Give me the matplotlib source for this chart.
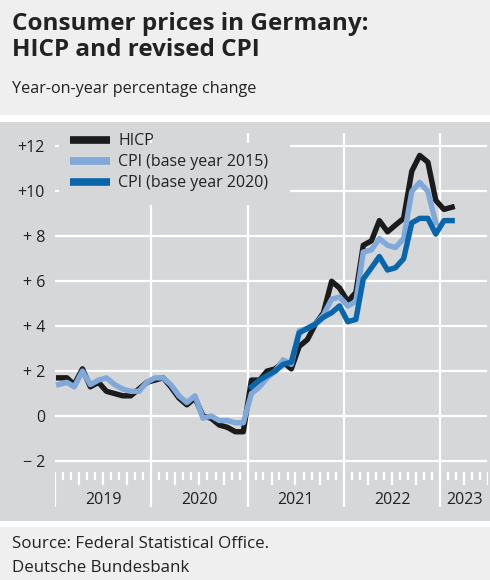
import numpy as np
import pandas as pd
import matplotlib
matplotlib.use("Agg")
import matplotlib.pyplot as plt
from matplotlib.patches import Rectangle
from matplotlib.lines import Line2D

plt.rcParams["font.family"] = ["Open Sans", "DejaVu Sans"]

# --- data (year-on-year % change, monthly) ---
hicp = [1.7, 1.7, 1.4, 2.1, 1.3, 1.5, 1.1, 1.0, 0.9, 0.9, 1.2, 1.5,
        1.6, 1.7, 1.3, 0.8, 0.5, 0.8, 0.0, -0.1, -0.4, -0.5, -0.7, -0.7,
        1.6, 1.6, 2.0, 2.1, 2.4, 2.1, 3.1, 3.4, 4.1, 4.6, 6.0, 5.7,
        5.1, 5.5, 7.6, 7.8, 8.7, 8.2, 8.5, 8.8, 10.9, 11.6, 11.3, 9.6,
        9.2, 9.3]
cpi_2015 = [1.4, 1.5, 1.3, 2.0, 1.4, 1.6, 1.7, 1.4, 1.2, 1.1, 1.1, 1.5,
            1.7, 1.7, 1.4, 0.9, 0.6, 0.9, -0.1, 0.0, -0.2, -0.2, -0.3, -0.3,
            1.0, 1.3, 1.7, 2.0, 2.5, 2.3, 3.8, 3.9, 4.1, 4.5, 5.2, 5.3,
            4.9, 5.1, 7.3, 7.4, 7.9, 7.6, 7.5, 7.9, 10.0, 10.4, 10.0, 8.6]
cpi_2020 = [1.3, 1.6, 1.8, 2.0, 2.3, 2.4, 3.7, 3.9, 4.1, 4.4, 4.6, 4.9,
            4.2, 4.3, 6.1, 6.6, 7.1, 6.5, 6.6, 7.0, 8.6, 8.8, 8.8, 8.1,
            8.7, 8.7]
hicp_start = "2019-01"
cpi_2015_start = "2019-01"
cpi_2020_start = "2021-01"

y_ticks = [-2, 0, 2, 4, 6, 8, 10, 12]
y_labels = ["\u2212 2", "0", "+ 2", "+ 4", "+ 6", "+ 8", "+10", "+12"]
years = [2019, 2020, 2021, 2022, 2023]

BG = "#efefef"
PANEL = "#d6d7d9"
TXT = "#222222"
C_HICP = "#1b1b1b"
C_2015 = "#80a9da"
C_2020 = "#0a66aa"


def month_mid(start, n):
    return pd.date_range(start, periods=n, freq="MS") + pd.Timedelta(days=14)


W, H = 490, 580
fig = plt.figure(figsize=(W / 100, H / 100), dpi=100, facecolor=BG)

# white separators and grey panel (behind the axes)
for y_top, h, col in [(115, 7, "white"), (122, 399, PANEL), (521, 6, "white")]:
    fig.patches.append(Rectangle((0, 1 - (y_top + h) / H), 1, h / H,
                                 transform=fig.transFigure, facecolor=col,
                                 edgecolor="none", zorder=-5))

ax = fig.add_axes([55 / W, 1 - 507 / H, 433 / W, 374 / H])
ax.set_zorder(1)
ax.set_facecolor("none")
for s in ax.spines.values():
    s.set_visible(False)

x0 = pd.Timestamp("2019-01-01")
x1 = pd.Timestamp("2023-07-01")
ax.set_xlim(x0, x1)
ax.set_ylim(-4.05, 12.6)

# grid
ax.hlines(y_ticks, x0, x1 - pd.Timedelta(days=5), color="white", lw=1.6, zorder=1)
for yr in years[1:]:
    ax.vlines(pd.Timestamp(f"{yr}-01-01"), -4.05, 12.6, color="white", lw=1.6, zorder=1)
ax.vlines(x0, -4.05, -2.49, color="white", lw=1.6, zorder=1)

# month ticks along the bottom
months = pd.date_range("2019-02-01", "2023-07-01", freq="MS")
for m in months:
    if m.month == 1:
        continue
    low = -3.07 if m.month in (4, 7, 10) else -2.84
    ax.vlines(m, low, -2.49, color="white", lw=1.6, zorder=1)

for yr in years:
    a = pd.Timestamp(f"{yr}-01-01")
    b = min(pd.Timestamp(f"{yr + 1}-01-01"), x1)
    ax.text(a + (b - a) / 2, -3.72, str(yr), ha="center", va="center",
            fontsize=11.5, color=TXT)

# legend background hides grid
ax.add_patch(Rectangle((0.009, 0.807), 0.534, 0.166, transform=ax.transAxes,
                       facecolor=PANEL, edgecolor="none", zorder=2))

ax.plot(month_mid(hicp_start, len(hicp)), hicp, color=C_HICP, lw=3.9,
        solid_joinstyle="round", zorder=3)
ax.plot(month_mid(cpi_2015_start, len(cpi_2015)), cpi_2015, color=C_2015, lw=3.9,
        solid_joinstyle="round", zorder=4)
ax.plot(month_mid(cpi_2020_start, len(cpi_2020)), cpi_2020, color=C_2020, lw=3.9,
        solid_joinstyle="round", zorder=5)

ax.set_yticks(y_ticks)
ax.set_yticklabels(y_labels, fontsize=11.5, color=TXT)
ax.tick_params(axis="y", length=0, pad=7.2)
ax.set_xticks([])

handles = [Line2D([0], [0], color=C_HICP, lw=5.5, solid_capstyle="butt"),
           Line2D([0], [0], color=C_2015, lw=5.5, solid_capstyle="butt"),
           Line2D([0], [0], color=C_2020, lw=5.5, solid_capstyle="butt")]
leg = ax.legend(handles, ["HICP", "CPI (base year 2015)", "CPI (base year 2020)"],
                loc="upper left", bbox_to_anchor=(67 / W, 1 - 130 / H),
                bbox_transform=fig.transFigure, frameon=False, fontsize=11.5,
                handlelength=2.5, handletextpad=0.5, labelspacing=0.32,
                borderaxespad=0, borderpad=0.2)
for t in leg.get_texts():
    t.set_color(TXT)
leg.set_zorder(6)

# titles and footer
fig.text(12 / W, 1 - 30 / H, "Consumer prices in Germany:", fontsize=17.5,
         fontweight="bold", color=TXT, va="baseline")
fig.text(12 / W, 1 - 56 / H, "HICP and revised CPI", fontsize=17.5,
         fontweight="bold", color=TXT, va="baseline")
fig.text(12 / W, 1 - 93 / H, "Year-on-year percentage change", fontsize=11.6,
         color=TXT, va="baseline")
fig.text(12 / W, 1 - 548 / H, "Source: Federal Statistical Office.", fontsize=12.2,
         color=TXT, va="baseline")
fig.text(12 / W, 1 - 572 / H, "Deutsche Bundesbank", fontsize=12.2,
         color=TXT, va="baseline")

fig.savefig("out.png", dpi=100, facecolor=BG)
